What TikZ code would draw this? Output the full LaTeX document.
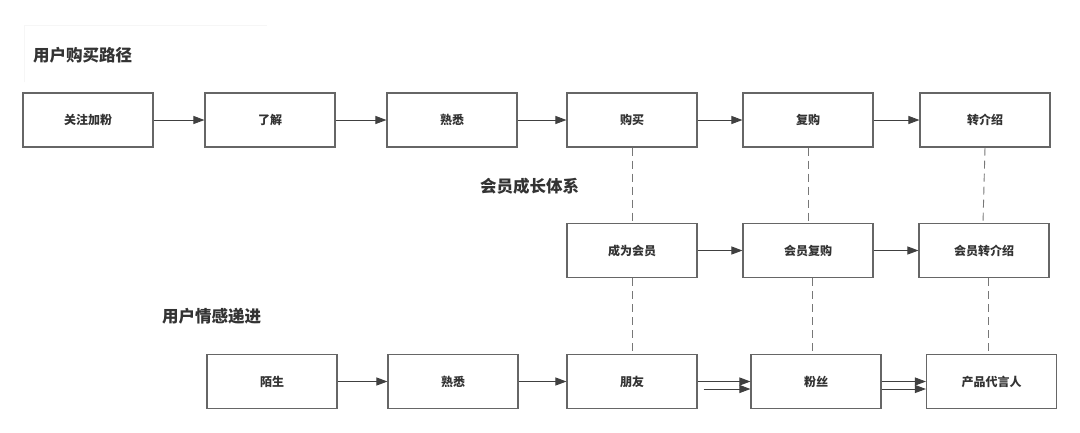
\documentclass[tikz,border=0pt]{standalone}
\usepackage{fontspec}
\setmainfont{Noto Sans CJK SC}
\usetikzlibrary{arrows.meta}
\definecolor{txt}{HTML}{333333}
\definecolor{boxc}{HTML}{666666}
\definecolor{linec}{HTML}{404040}
\definecolor{dashc}{HTML}{777777}
\definecolor{faint}{HTML}{F6F6F6}
\tikzset{
  stepbox/.style={draw=boxc, line width=1.1pt, minimum width=130pt, minimum height=54pt, inner sep=0pt, text=txt, font=\fontsize{12}{14}\selectfont\bfseries},
  title/.style={text=txt, font=\fontsize{16.5}{19}\selectfont\bfseries, inner sep=0pt},
  arr/.style={draw=linec, line width=0.9pt, -{Triangle[length=11pt,width=8pt]}},
  dashline/.style={draw=dashc, line width=0.9pt, dash pattern=on 8pt off 5pt},
}
\begin{document}
\begin{tikzpicture}[x=1pt,y=-1pt]
\useasboundingbox (0,0) rectangle (1080,432);
\fill[white] (0,0) rectangle (1080,432);
% faint title frames
\draw[faint, line width=0.8pt] (24,82) -- (24,25) -- (267,25);
% titles
\node[title, anchor=west] (t1) at (33,55) {用户购买路径};
\node[title, anchor=west] (t2) at (480,186) {会员成长体系};
\node[title, anchor=west] (t3) at (162,316) {用户情感递进};
% top row
\node[stepbox] (a1) at (88,120) {关注加粉};
\node[stepbox] (a2) at (270,120) {了解};
\node[stepbox] (a3) at (452,120) {熟悉};
\node[stepbox] (a4) at (632,120) {购买};
\node[stepbox] (a5) at (808,120) {复购};
\node[stepbox] (a6) at (985,120) {转介绍};
% middle row
\node[stepbox] (b1) at (632,250.5) {成为会员};
\node[stepbox] (b2) at (808,250.5) {会员复购};
\node[stepbox] (b3) at (984,250.5) {会员转介绍};
% bottom row
\node[stepbox] (c1) at (272,381.5) {陌生};
\node[stepbox] (c2) at (453,381.5) {熟悉};
\node[stepbox] (c3) at (632,381.5) {朋友};
\node[stepbox] (c4) at (816,381.5) {粉丝};
\node[stepbox] (c5) at (991.5,381.5) {产品代言人};
% arrows top
\draw[arr] (a1) -- (a2);
\draw[arr] (a2) -- (a3);
\draw[arr] (a3) -- (a4);
\draw[arr] (a4) -- (a5);
\draw[arr] (a5) -- (a6);
% arrows middle
\draw[arr] (b1) -- (b2);
\draw[arr] (b2) -- (b3);
% arrows bottom
\draw[arr] (c1) -- (c2);
\draw[arr] (c2) -- (c3);
\draw[arr] (c3.east) -- (c4.west);
\draw[arr] ([shift={(6pt,-7.5pt)}]c3.east) -- ([yshift=-7.5pt]c4.west);
\draw[arr] (c4.east) -- (c5.west);
\draw[arr] ([yshift=-7.5pt]c4.east) -- ([yshift=-7.5pt]c5.west);
% dashed links
\draw[dashline] (a4.south) -- (b1.north);
\draw[dashline] (b1.south) -- (c3.north);
\draw[dashline] (a5.south) -- (b2.north);
\draw[dashline] ([xshift=4pt]b2.south) -- ([xshift=-4pt]c4.north);
\draw[dashline] (a6.south) -- ([xshift=-1pt]b3.north);
\draw[dashline] ([xshift=4pt]b3.south) -- ([xshift=-3.5pt]c5.north);
\end{tikzpicture}
\end{document}
